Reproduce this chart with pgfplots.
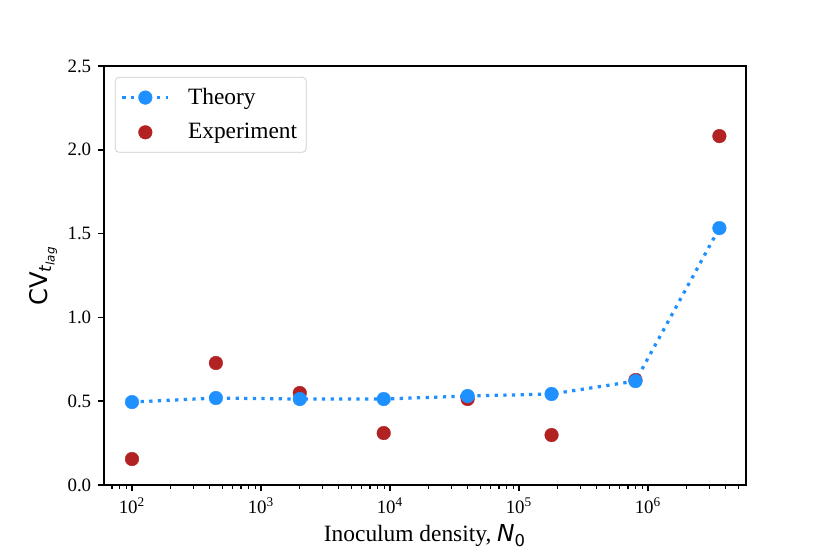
\documentclass[border=0pt]{standalone}
\usepackage{fontspec}
\setmainfont{Liberation Serif}
\newfontfamily\dv{DejaVu Sans}
\usepackage{pgfplots}
\pgfplotsset{compat=1.18}
\pgfplotsset{legend image code/.code={\draw[mark repeat=2,mark phase=2,#1] plot coordinates {(0cm,0cm)(0.45cm,0cm)(0.9cm,0cm)};}}
\definecolor{theory}{RGB}{30,144,255}
\definecolor{expt}{RGB}{178,34,34}
\definecolor{legbd}{RGB}{204,204,204}
\begin{document}
\begin{tikzpicture}
\begin{axis}[name=ax, xmode=log, scale only axis, width=356.7pt, height=232.8pt,
  xmin=60.7, xmax=5.75e6, ymin=0, ymax=2.5,
  axis line style={line width=0.8pt},
  tick align=outside, tick pos=left,
  major tick length=3.6pt, minor tick length=2pt,
  every tick/.style={black, line width=0.8pt},
  every minor tick/.style={black, line width=0.6pt},
  xtick={1e2,1e3,1e4,1e5,1e6},
  xticklabels={10\textsuperscript{2},10\textsuperscript{3},10\textsuperscript{4},10\textsuperscript{5},10\textsuperscript{6}},
  minor xtick={60,70,80,90,200,300,400,500,600,700,800,900,2000,3000,4000,5000,6000,7000,8000,9000,2e4,3e4,4e4,5e4,6e4,7e4,8e4,9e4,2e5,3e5,4e5,5e5,6e5,7e5,8e5,9e5,2e6,3e6,4e6,5e6},
  ytick={0,0.5,1,1.5,2,2.5},
  yticklabel style={/pgf/number format/fixed, /pgf/number format/fixed zerofill, /pgf/number format/precision=1, /pgf/number format/assume math mode=true},
  ticklabel style={font=\fontsize{10.5}{12}\selectfont},
  xlabel={Inoculum density, {\dv\itshape N}\textsubscript{\dv 0}},
  ylabel={{\dv CV}\textsubscript{\dv\itshape t\textsubscript{lag}}},
  label style={font=\fontsize{13}{15}\selectfont},
  ylabel style={font=\fontsize{13.5}{15}\selectfont, yshift=-1pt},
  xlabel style={yshift=1pt},
  reverse legend,
  legend style={at={(0.017,0.974)}, anchor=north west, draw=legbd, rounded corners=2pt,
    font=\fontsize{13}{15}\selectfont, row sep=5pt, inner xsep=3pt, inner ysep=4pt,
    /tikz/every odd column/.append style={column sep=8pt}},
  legend cell align=left,
]
\addplot[only marks, mark=*, mark size=3.8pt, color=expt, mark options={line width=0.2pt}]
coordinates {
(100,0.155) (447.2,0.728) (2000,0.549) (8944,0.310) (40000,0.513) (178885,0.298) (800000,0.626) (3577709,2.082)
};
\addlegendentry{Experiment}
\addplot[theory, line width=1.8pt, dash pattern=on 1.8pt off 3pt, mark=*, mark size=3.8pt, mark options={solid, line width=0.2pt}]
coordinates {
(100,0.495) (447.2,0.519) (2000,0.513) (8944,0.513) (40000,0.531) (178885,0.543) (800000,0.620) (3577709,1.533)
};
\addlegendentry{Theory}
\end{axis}
\pgfresetboundingbox
\path ([shift={(-57.8pt,-38.4pt)}]ax.south west) rectangle ([shift={(46.7pt,36.7pt)}]ax.north east);
\end{tikzpicture}
\end{document}
